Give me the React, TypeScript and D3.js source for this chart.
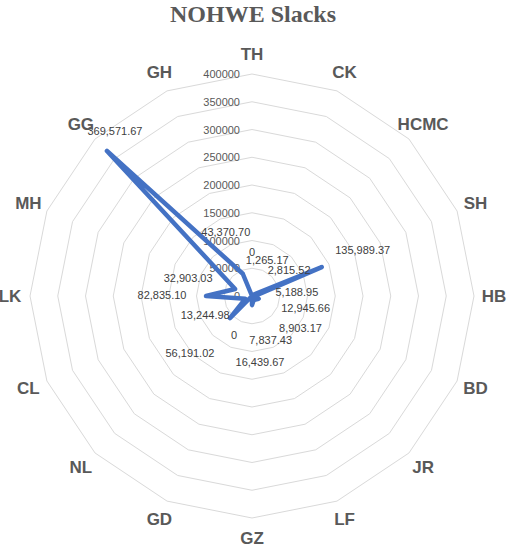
import React from "react";
import * as d3 from "d3";

const categories = ["TH","CK","HCMC","SH","HB","BD","JR","LF","GZ","GD","NL","CL","LK","MH","GG","GH"];
const slackValues = [0,1265.17,2815.52,135989.37,5188.95,12945.66,8903.17,7837.43,16439.67,0,56191.02,13244.98,82835.10,32903.03,369571.67,43370.70];
const valueLabels = ["0","1,265.17","2,815.52","135,989.37","5,188.95","12,945.66","8,903.17","7,837.43","16,439.67","0","56,191.02","13,244.98","82,835.10","32,903.03","369,571.67","43,370.70"];
const tickValues = [0,50000,100000,150000,200000,250000,300000,350000,400000];
const titleText = "NOHWE Slacks";

// label layout nudges (px) relative to each point
const labelNudge: [number, number][] = [
  [0,-44],[15,-35],[36,-25],[41,-17],[42,-4],[47,9],[45,29],[17,40],
  [8,57],[-18,39],[-40,35],[-40,16],[-44,-1],[-47,-11],[8,-20],[-17,-42]
];

const W = 511, H = 550;
const cx = 252, cy = 296, R = 222;

export default function App() {
  const n = categories.length;
  const angle = d3.scaleLinear().domain([0, n]).range([0, 2 * Math.PI]);
  const r = d3.scaleLinear().domain([0, 400000]).range([0, R]);
  const pt = (i: number, v: number): [number, number] => {
    const a = angle(i);
    return [cx + r(v) * Math.sin(a), cy - r(v) * Math.cos(a)];
  };
  const ringPath = (v: number) =>
    d3.line()(d3.range(n + 1).map((i) => pt(i % n, v)))!;
  const seriesPath = d3.line().curve(d3.curveLinearClosed)(slackValues.map((v, i) => pt(i, v)))!;
  const catR = 242;

  return (
    <svg width={W} height={H} style={{ position: "absolute", left: 0, top: 0, background: "#fff" }}>
      <text x={253} y={22} textAnchor="middle" fontFamily="Liberation Serif" fontWeight="bold" fontSize={24} fill="#595959">{titleText}</text>
      <g>
        {tickValues.slice(1).map((t) => (
          <path key={t} d={ringPath(t)} fill="none" stroke="#d9d9d9" strokeWidth={1} />
        ))}
      </g>
      <g fontFamily="Liberation Sans" fontSize={11} fill="#595959">
        {tickValues.map((t) => (
          <text key={t} x={cx - 12} y={cy - r(t)} textAnchor="end" dominantBaseline="central">{t}</text>
        ))}
      </g>
      <path d={seriesPath} fill="none" stroke="#4472C4" strokeWidth={4.5} strokeLinejoin="round" />
      <g fontFamily="Liberation Sans" fontSize={11} fill="#404040">
        {slackValues.map((v, i) => {
          const [x, y] = pt(i, v);
          return (
            <text key={i} x={x + labelNudge[i][0]} y={y + labelNudge[i][1]} textAnchor="middle" dominantBaseline="central">{valueLabels[i]}</text>
          );
        })}
      </g>
      <g fontFamily="Liberation Sans" fontWeight="bold" fontSize={17} fill="#595959">
        {categories.map((c, i) => {
          const a = angle(i);
          return (
            <text key={c} x={cx + catR * Math.sin(a)} y={cy - catR * Math.cos(a)} textAnchor="middle" dominantBaseline="central">{c}</text>
          );
        })}
      </g>
    </svg>
  );
}
